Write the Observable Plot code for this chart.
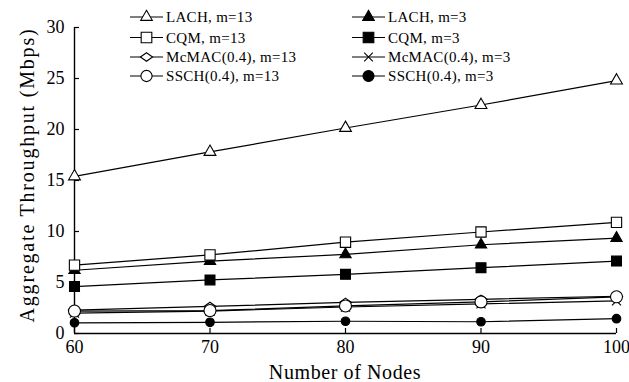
<!DOCTYPE html>
<html>
<head>
<meta charset="utf-8">
<script src="https://cdn.jsdelivr.net/npm/d3@7"></script>
<script src="https://cdn.jsdelivr.net/npm/@observablehq/plot@0.6"></script>
<style>
  html, body { margin: 0; padding: 0; background: #fff; }
  #wrap { position: relative; width: 629px; height: 382px; }
  #wrap, #wrap svg, #wrap text { font-family: 'Liberation Serif', 'Times New Roman', Times, serif !important; }
  #legend { position: absolute; left: 0; top: 0; }
</style>
</head>
<body>
<div id="wrap"></div>
<script>
const nodes = [60, 70, 80, 90, 100];
const yTicks = [0, 5, 10, 15, 20, 25, 30];

const lach13 = [15.4, 17.8, 20.15, 22.4, 24.8];
const lach3  = [6.2, 7.1, 7.75, 8.7, 9.35];
const cqm13  = [6.7, 7.7, 8.95, 9.95, 10.9];
const cqm3   = [4.6, 5.25, 5.8, 6.45, 7.1];
const mcmac13 = [2.3, 2.65, 3.05, 3.35, 3.65];
const mcmac3  = [2.0, 2.2, 2.6, 2.9, 3.2];
const ssch13  = [2.2, 2.25, 2.7, 3.1, 3.6];
const ssch3   = [1.05, 1.1, 1.2, 1.15, 1.45];

const FONT = "'Liberation Serif', 'Times New Roman', Times, serif";

// wide diamond symbol
const wideDiamond = {
  draw(context, size) {
    const w = Math.sqrt(size) * 0.66, h = Math.sqrt(size) * 0.46;
    context.moveTo(0, -h);
    context.lineTo(w, 0);
    context.lineTo(0, h);
    context.lineTo(-w, 0);
    context.closePath();
  }
};

const seriesDefs = [
  {name: "LACH, m=13", values: lach13, symbol: "triangle", fill: "white", r: 4.4, lr: 4.3},
  {name: "LACH, m=3", values: lach3, symbol: "triangle", fill: "black", r: 4.2, lr: 4.3},
  {name: "CQM, m=13", values: cqm13, symbol: "square", fill: "white", r: 5.8, lr: 6},
  {name: "CQM, m=3", values: cqm3, symbol: "square", fill: "black", r: 5.6, lr: 6},
  {name: "McMAC(0.4), m=13", values: mcmac13, symbol: wideDiamond, fill: "white", r: 5.2, lr: 5.2},
  {name: "McMAC(0.4), m=3", values: mcmac3, symbol: "times", fill: "none", r: 4.2, lr: 4},
  {name: "SSCH(0.4), m=13", values: ssch13, symbol: "circle", fill: "white", r: 6, lr: 5.6},
  {name: "SSCH(0.4), m=3", values: ssch3, symbol: "circle", fill: "black", r: 4.3, lr: 5.5}
];

const rows = seriesDefs.flatMap(s => nodes.map((n, i) => ({series: s.name, x: n, y: s.values[i]})));

const lineMarks = seriesDefs.map(s =>
  Plot.line(rows.filter(d => d.series === s.name), {x: "x", y: "y", stroke: "black", strokeWidth: 1.2})
);
const dotMarks = seriesDefs.map(s =>
  Plot.dot(rows.filter(d => d.series === s.name), {
    x: "x", y: "y", symbol: () => s.symbol, r: s.r,
    fill: s.fill, stroke: "black", strokeWidth: 1.1
  })
);

const chart = Plot.plot({
  width: 629,
  height: 382,
  marginLeft: 74,
  marginRight: 13,
  marginTop: 27,
  marginBottom: 49,
  style: {fontFamily: FONT, background: "white", color: "black"},
  x: {domain: [60, 100]},
  y: {domain: [0, 30]},
  symbol: {type: "identity"},
  marks: [
    Plot.axisX(nodes, {tickSize: 0, tickPadding: 7, fontSize: 18, label: null}),
    Plot.axisX(nodes, {tickSize: -5, text: null, label: null, strokeWidth: 1.2}),
    Plot.axisY(yTicks, {tickSize: 0, tickPadding: 10, fontSize: 18, label: null}),
    Plot.axisY(yTicks, {tickSize: -5, text: null, label: null, strokeWidth: 1.2}),
    Plot.ruleX([60], {stroke: "black", strokeWidth: 1.4}),
    Plot.ruleY([0], {stroke: "black", strokeWidth: 1.4}),
    ...lineMarks,
    ...dotMarks
  ]
});

const wrap = document.getElementById("wrap");
wrap.appendChild(chart);

// axis titles
const svg = d3.select(chart);
svg.append("text")
  .attr("transform", "translate(34,175) rotate(-90)")
  .attr("text-anchor", "middle")
  .attr("font-size", 20)
  .attr("letter-spacing", 1.8)
  .attr("fill", "black")
  .text("Aggregate Throughput (Mbps)");
svg.append("text")
  .attr("x", 345)
  .attr("y", 379)
  .attr("text-anchor", "middle")
  .attr("font-size", 20)
  .attr("letter-spacing", 0.6)
  .attr("fill", "black")
  .text("Number of Nodes");

// legend overlay
const leg = d3.select(wrap).append("svg")
  .attr("id", "legend")
  .attr("width", 629).attr("height", 100);
const colX = [130, 352];
const rowY = [17, 37.5, 57, 76];
seriesDefs.forEach((s, i) => {
  const cx = colX[i % 2], cy = rowY[Math.floor(i / 2)];
  const g = leg.append("g").attr("transform", `translate(${cx},${cy})`);
  g.append("line").attr("x1", 0).attr("x2", 33).attr("y1", 0).attr("y2", 0)
    .attr("stroke", "black").attr("stroke-width", 1.2);
  const symType = typeof s.symbol === "string"
    ? ({triangle: d3.symbolTriangle, square: d3.symbolSquare, circle: d3.symbolCircle, times: d3.symbolTimes})[s.symbol]
    : s.symbol;
  const size = Math.PI * s.lr * s.lr;
  g.append("path")
    .attr("transform", "translate(16.5,0)")
    .attr("d", d3.symbol(symType, size)())
    .attr("fill", s.fill).attr("stroke", "black").attr("stroke-width", 1.1);
  g.append("text").attr("x", 36).attr("y", 0).attr("dy", "0.35em")
    .attr("font-size", 15).attr("letter-spacing", 0.3).attr("fill", "black")
    .text(s.name);
});
</script>
</body>
</html>
